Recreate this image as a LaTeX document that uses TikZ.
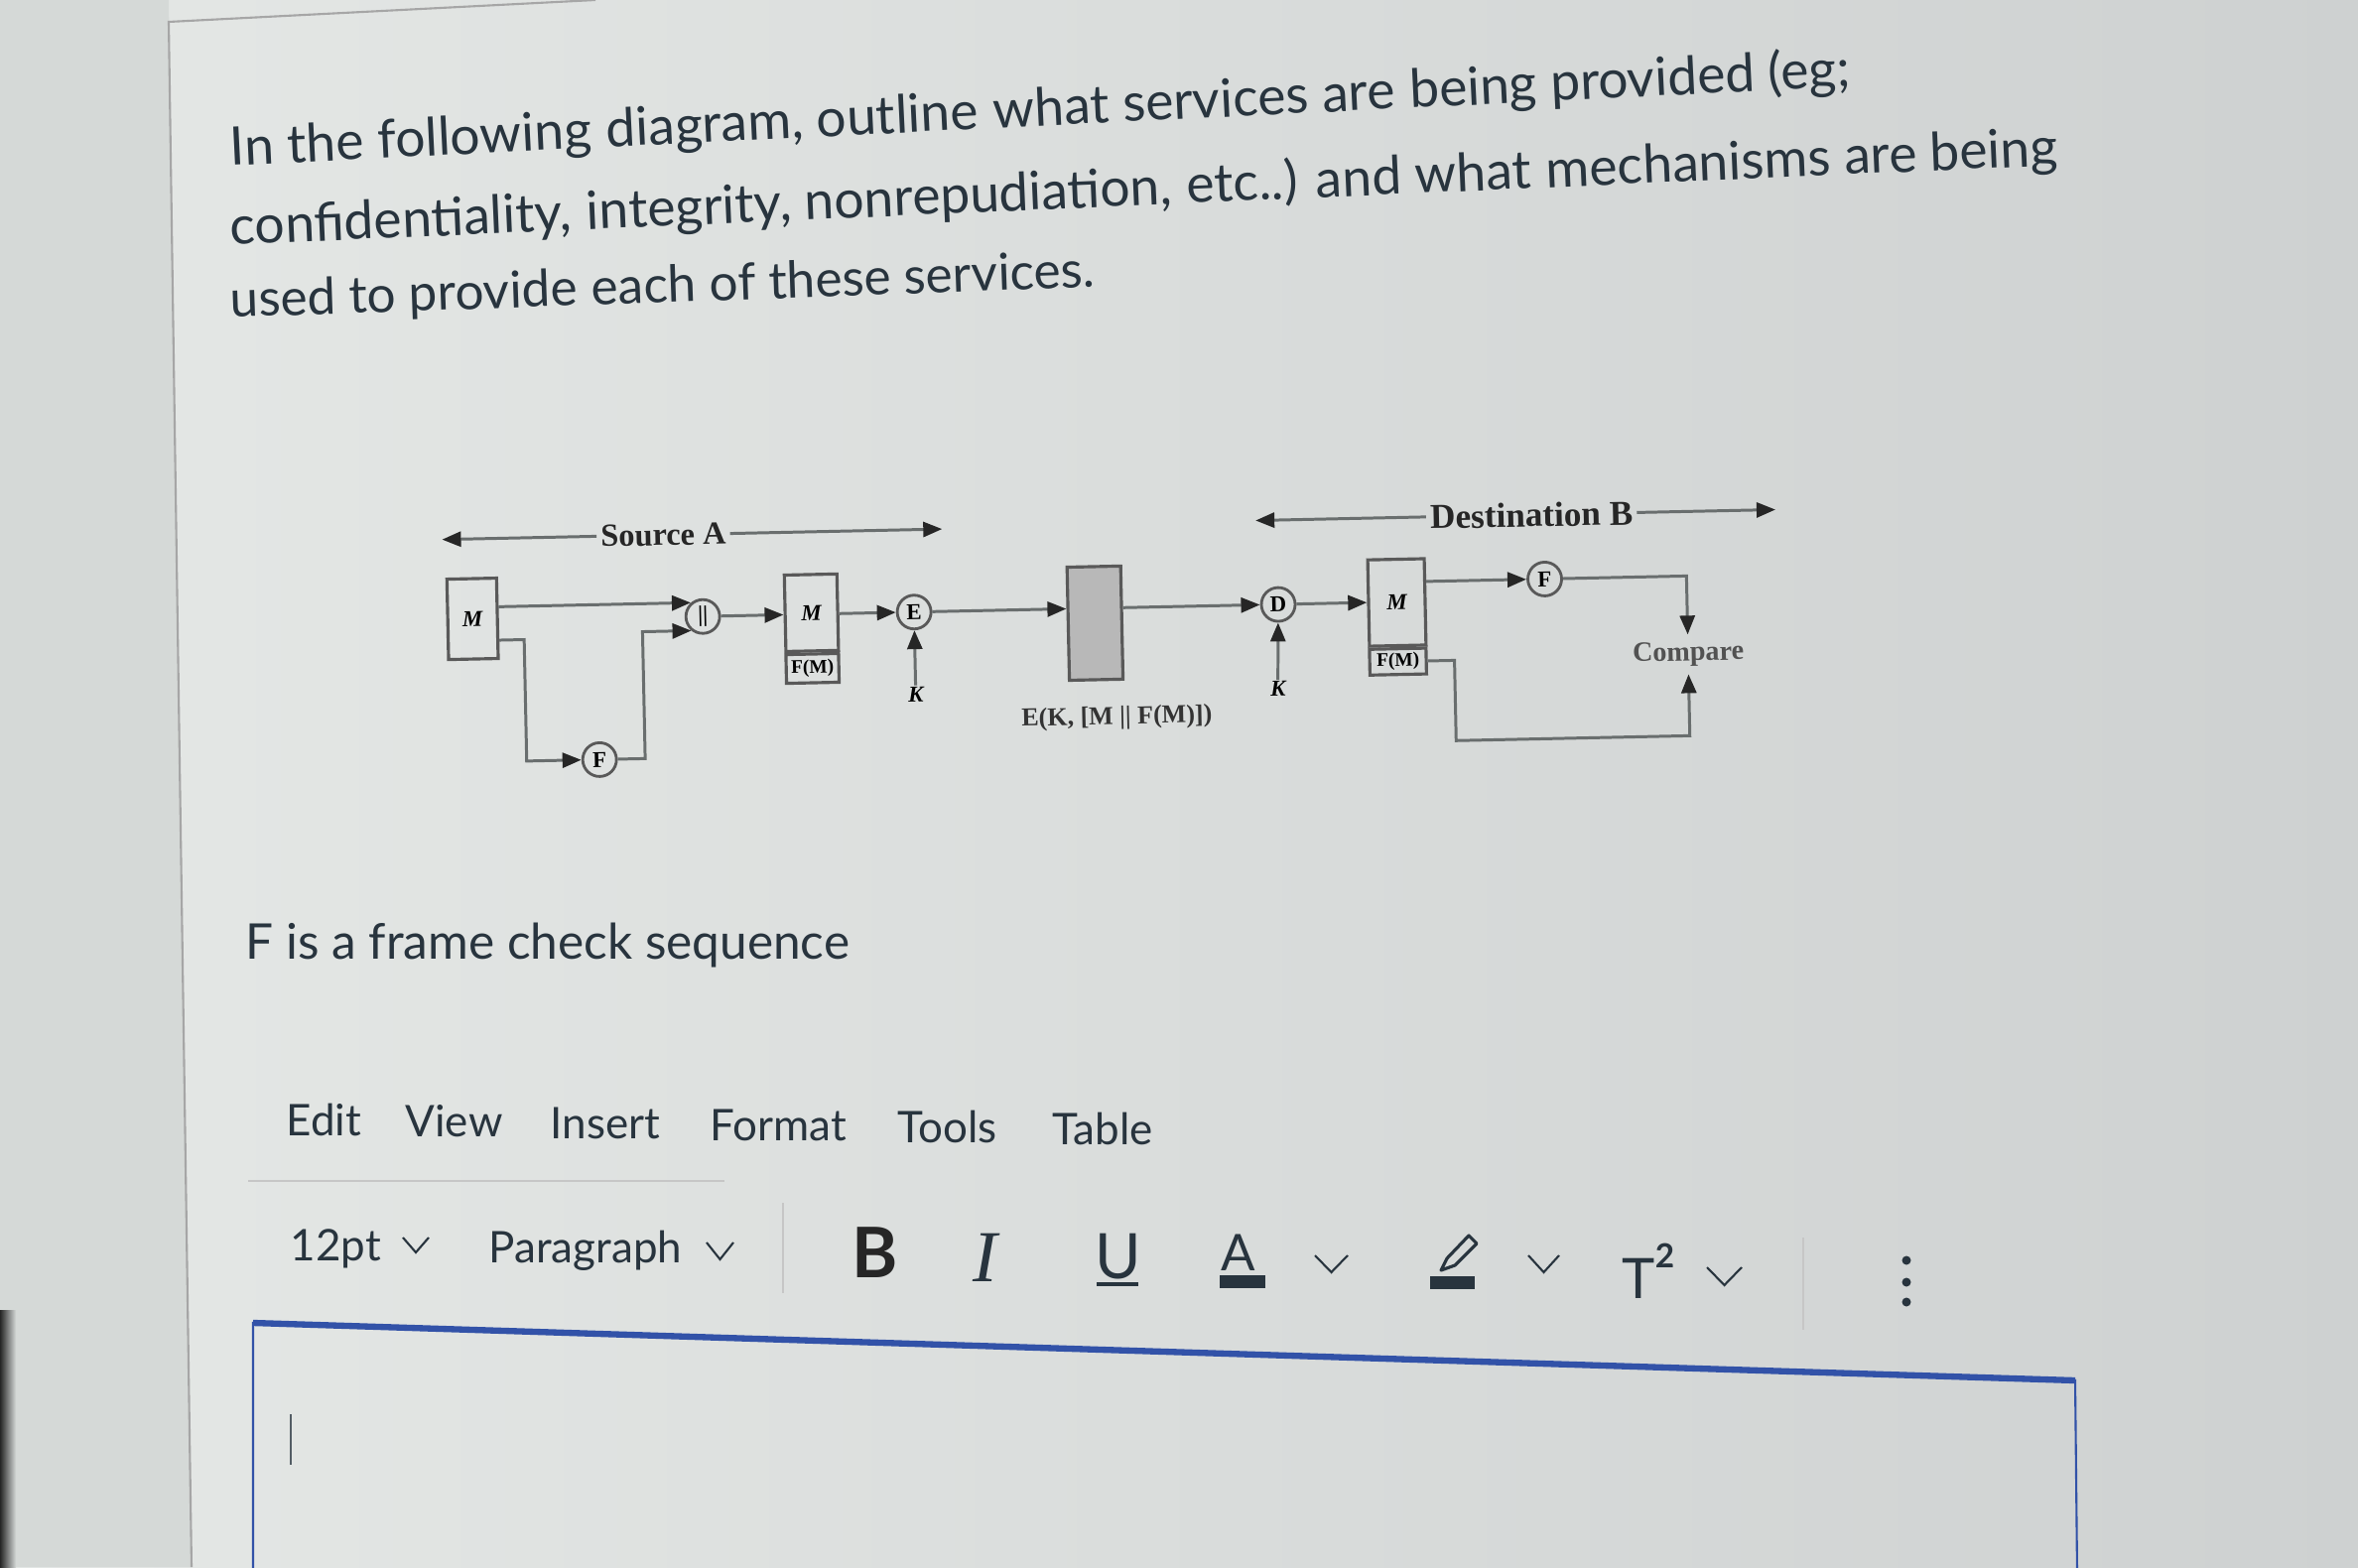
\documentclass[tikz,border=0pt]{standalone}
\usepackage{fontspec}
\setmainfont{Lato}
\newfontfamily\dfont{Liberation Serif}
\usetikzlibrary{arrows.meta,calc}
\definecolor{pagebg}{RGB}{229,232,230}
\definecolor{pagebgR}{RGB}{206,209,209}
\definecolor{stripbg}{RGB}{213,217,215}
\definecolor{inktext}{RGB}{40,52,62}
\definecolor{wirec}{RGB}{105,110,110}
\definecolor{boxblue}{RGB}{50,82,168}
\tikzset{
    wire/.style={draw=wirec, line width=0.85pt}, % connector lines of the figure
    arr/.style={-{Triangle[length=0.19cm, width=0.15cm, color=black!85]}}, % filled arrow heads
    blk/.style={draw=black!65, line width=0.9pt, inner sep=0pt, font=\dfont\bfseries\itshape\fontsize{6.5}{7}\selectfont},
    op/.style={circle, draw=black!65, line width=0.8pt, minimum size=0.34cm, inner sep=0pt, font=\dfont\bfseries\fontsize{6.5}{7}\selectfont},
    lbl/.style={inner sep=1pt, text=black!85, font=\dfont\bfseries\fontsize{9.2}{10}\selectfont},
    qtext/.style={anchor=base west, inner sep=0pt, text=inktext, font=\fontsize{15.2}{18}\selectfont},
    menu/.style={anchor=base west, inner sep=0pt, text=inktext, font=\fontsize{12.5}{15}\selectfont},
    chev/.style={draw=inktext, line width=0.6pt},
    sep/.style={draw=gray!45, line width=0.7pt}
}
\begin{document}
\begin{tikzpicture}[x=1cm, y=-1cm]
\useasboundingbox (0,0) rectangle (23.76,15.79);
% page
\shade[left color=pagebg, right color=pagebgR] (0,0) rectangle (23.76,15.79);
\fill[stripbg] (0,0) -- (1.70,0) -- (1.93,15.79) -- (0,15.79) -- cycle;
\shade[left color=black!85, right color=stripbg] (0,13.2) rectangle (0.16,15.79);
\draw[gray!70, line width=0.6pt] (1.93,15.79) -- (1.70,0.22) -- (6.0,0);

% question, one line in several pieces along a slanted base line
\node[qtext, rotate=2.8] (q1a) at (2.32,1.67) {In the following};
\node[qtext, rotate=2.8] (q1b) at (q1a.base east) {\ diagram, outline};
\node[qtext, rotate=2.8] (q1c) at (q1b.base east) {\ what services are};
\node[qtext, rotate=2.8] (q1d) at (q1c.base east) {\ being provided (eg;};
\node[qtext, rotate=2.5] (q2a) at (2.32,2.47) {confidentiality,};
\node[qtext, rotate=2.5] (q2b) at (q2a.base east) {\ integrity, nonrepudiation,};
\node[qtext, rotate=2.5] (q2c) at (q2b.base east) {\ etc..) and what};
\node[qtext, rotate=2.5] (q2d) at (q2c.base east) {\ mechanisms are being};
\node[qtext, rotate=2.0, font=\fontsize{14.6}{17}\selectfont] (q3a) at (2.32,3.20) {used to provide};
\node[qtext, rotate=2.0, font=\fontsize{14.6}{17}\selectfont] (q3b) at (q3a.base east) {\ each of these services.};

\begin{scope}[rotate around={1.2:(11.0,6.1)}, transform shape]
% figure: source side
\node[lbl] (srcA) at (6.70,5.30) {Source A};
\coordinate (srcL) at (4.47,5.30);
\coordinate (srcR) at (9.51,5.30);
\draw[wire, arr] (srcA) -- (srcL);
\draw[wire, arr] (srcA) -- (srcR);
\node[blk, minimum width=0.50cm, minimum height=0.81cm] (mA) at (4.76,6.105) {M};
\node[op] (cat) at (7.08,6.13) {||};
\node[op] (fA) at (6.01,7.55) {F};
\node[blk, minimum width=0.53cm, minimum height=0.77cm] (mB) at (8.175,6.115) {M};
\node[blk, anchor=north, minimum width=0.53cm, minimum height=0.29cm, font=\dfont\bfseries\fontsize{5.5}{6}\selectfont] (fmB) at (mB.south) {F(M)};
\node[op] (eA) at (9.21,6.13) {E};
\node[blk, draw=none] (kA) at (9.21,6.96) {K};
\node[draw=black!65, line width=0.9pt, fill=black!28, minimum width=0.54cm, minimum height=1.14cm] (enc) at (11.03,6.28) {};
\node[inner sep=0pt, text=black!80, font=\dfont\bfseries\fontsize{7.4}{8}\selectfont] (encLbl) at (11.23,7.24) {E(K, [M || F(M)])};

% figure: destination side
\node[lbl, font=\dfont\bfseries\fontsize{10}{11}\selectfont] (dstB) at (15.45,5.28) {Destination B};
\coordinate (dstL) at (12.67,5.28);
\coordinate (dstR) at (17.91,5.28);
\draw[wire, arr] (dstB) -- (dstL);
\draw[wire, arr] (dstB) -- (dstR);
\node[op] (dB) at (12.88,6.13) {D};
\node[blk, draw=none] (kB) at (12.86,6.98) {K};
\node[blk, minimum width=0.57cm, minimum height=0.87cm] (mC) at (14.075,6.135) {M};
\node[blk, anchor=north, minimum width=0.57cm, minimum height=0.26cm, font=\dfont\bfseries\fontsize{5.5}{6}\selectfont] (fmC) at (mC.south) {F(M)};
\node[op] (fB) at (15.57,5.93) {F};
\node[inner sep=2pt, text=black!68, font=\dfont\bfseries\fontsize{8}{9}\selectfont] (cmp) at (17.0,6.72) {Compare};
\coordinate (cmpLow) at (17.0,7.54);

% connectors
\draw[wire, arr] (mA.east |- cat.130) -- (cat.130);
\draw[wire, arr] ([yshift=0.2cm]mA.south east) -- ++(0.25,0) |- (fA);
\draw[wire, arr] (fA) -- ++(0.46,0) |- (cat.230);
\draw[wire, arr] (cat) -- (mB.west |- cat);
\draw[wire, arr] (mB.east |- eA) -- (eA);
\draw[wire, arr] (kA) -- (eA);
\draw[wire, arr] (eA) -- (enc.west |- eA);
\draw[wire, arr] (enc.east |- dB) -- (dB);
\draw[wire, arr] (kB) -- (dB);
\draw[wire, arr] (dB) -- (mC.west |- dB);
\draw[wire, arr] (mC.east |- fB) -- (fB);
\draw[wire, arr] (fB) -| (cmp.north);
\draw[wire, arr] (fmC.east) -- ++(0.27,0) |- (cmpLow) -- (cmp.south);
\end{scope}

\node[qtext, font=\fontsize{14.1}{17}\selectfont] (fcs) at (2.47,9.66) {F is a frame check sequence};

% editor menu
\foreach \t/\x/\y [count=\i] in {Edit/2.88/11.44, View/4.08/11.45, Insert/5.54/11.47, Format/7.15/11.49, Tools/9.04/11.51, Table/10.60/11.53}
    \node[menu] (menu\i) at (\x,\y) {\t};
\draw[sep] (2.50,11.90) -- (7.30,11.90);

% editor toolbar
\node[menu] (size) at (2.92,12.70) {12pt};
\draw[chev] (4.06,12.47) -- (4.19,12.62) -- (4.32,12.47);
\node[menu] (para) at (4.92,12.72) {Paragraph};
\draw[chev] (7.12,12.52) -- (7.255,12.69) -- (7.39,12.52);
\draw[sep] (7.89,12.12) -- (7.89,13.03);
\node[anchor=base west, inner sep=0pt, text=black!85, font=\bfseries\fontsize{20}{24}\selectfont] (bold) at (8.58,12.87) {B};
\node[anchor=base west, inner sep=0pt, text=inktext, font=\dfont\itshape\fontsize{21}{24}\selectfont] (ital) at (9.80,12.91) {I};
\node[anchor=base west, inner sep=0pt, text=inktext, font=\fontsize{18}{22}\selectfont] (undl) at (11.03,12.88) {U};
\draw[inktext, line width=1pt] (11.05,12.94) -- (11.47,12.94);
\node[anchor=base west, inner sep=0pt, text=inktext, font=\fontsize{14.5}{17}\selectfont] (acol) at (12.30,12.80) {A};
\fill[inktext] (12.29,12.85) rectangle (12.75,12.98);
\draw[chev] (13.25,12.65) -- (13.415,12.82) -- (13.58,12.65);
\draw[inktext, line width=0.9pt, line join=round] (14.52,12.80) -- (14.58,12.68) -- (14.80,12.45) -- (14.88,12.53) -- (14.66,12.75) -- cycle;
\fill[inktext] (14.41,12.86) rectangle (14.86,12.99);
\draw[chev] (15.40,12.65) -- (15.555,12.82) -- (15.71,12.65);
\node[anchor=base west, inner sep=0pt, text=inktext, font=\fontsize{16}{19}\selectfont] (supr) at (16.34,13.08) {T\raisebox{0.55em}{\bfseries\fontsize{9.5}{10}\selectfont 2}};
\draw[chev] (17.20,12.77) -- (17.375,12.95) -- (17.55,12.77);
\draw[sep] (18.17,12.47) -- (18.17,13.40);
\foreach \y in {12.70,12.92,13.12} \fill[inktext] (19.21,\y) circle (0.045);

% answer box
\draw[boxblue, line width=0.6pt] (2.55,15.85) -- (2.55,13.33) -- (20.91,13.91) -- (20.93,15.85);
\draw[boxblue, line width=1.8pt] (2.55,13.33) -- (20.91,13.91);
\draw[inktext!80, line width=0.6pt] (2.93,14.25) -- (2.93,14.76);
\end{tikzpicture}
\end{document}
